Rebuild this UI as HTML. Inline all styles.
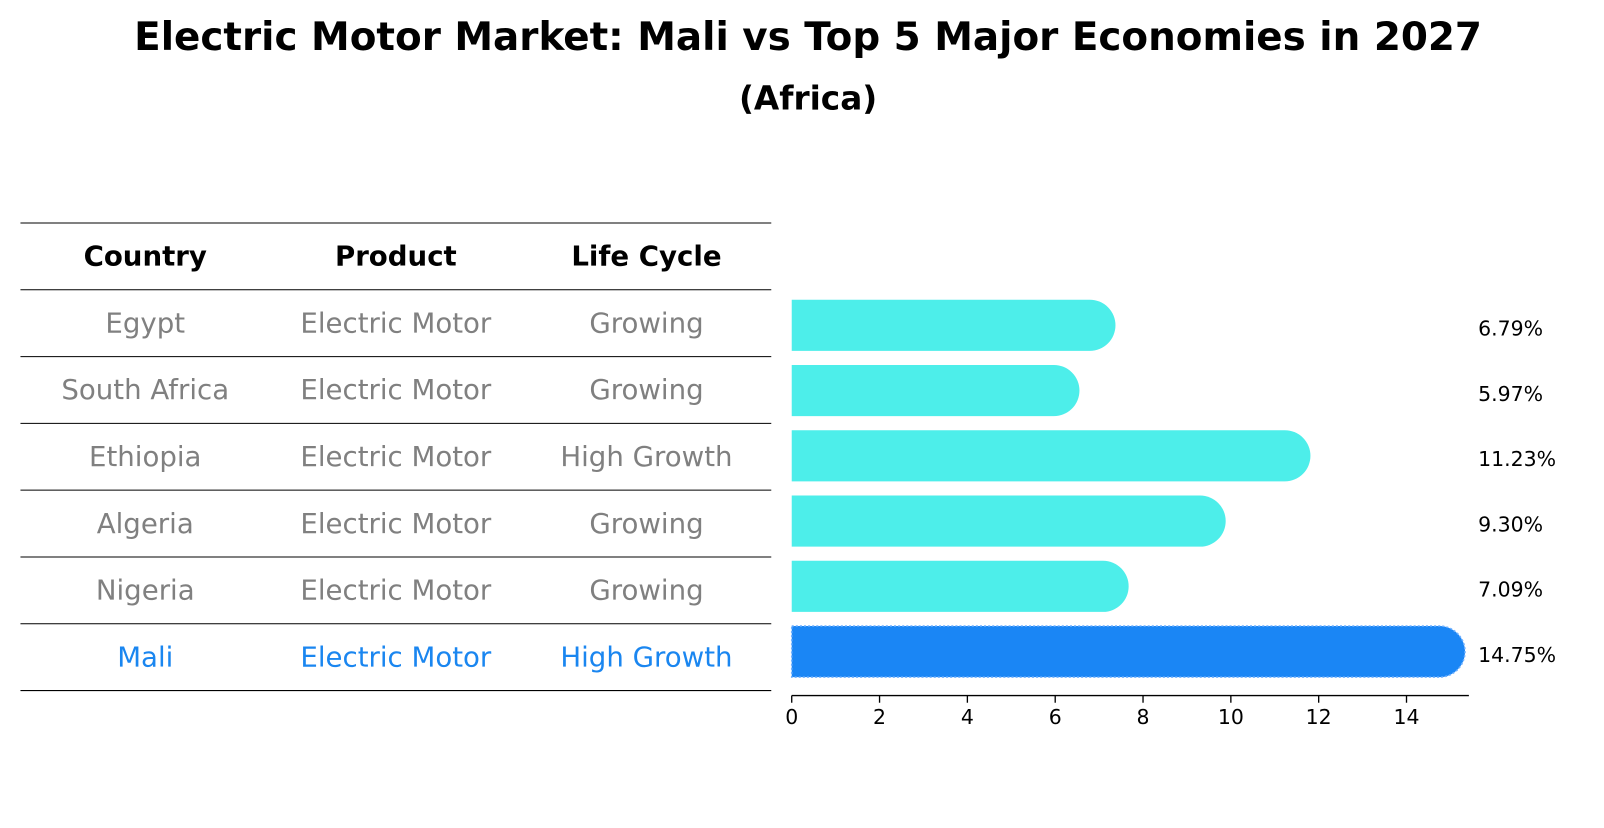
<!DOCTYPE html>
<html><head><meta charset="utf-8"><style>
body{margin:0;background:#fff;font-family:"Liberation Sans","DejaVu Sans",sans-serif}
</style></head><body>
<svg width="1604" height="823" xmlns="http://www.w3.org/2000/svg" font-family="DejaVu Sans, Liberation Sans, sans-serif">
<g transform="scale(1.0229)">
<text x="790" y="49" text-anchor="middle" font-size="38" font-weight="bold">Electric Motor Market: Mali vs Top 5 Major Economies in 2027</text>
<text x="790" y="107" text-anchor="middle" font-size="32" font-weight="bold">(Africa)</text>
<g id="table"></g>
<g id="bars"></g>
</g>
</svg>
<script>
const countries=["Egypt","South Africa","Ethiopia","Algeria","Nigeria","Mali"];
const products=["Electric Motor","Electric Motor","Electric Motor","Electric Motor","Electric Motor","Electric Motor"];
const lifeCycles=["Growing","Growing","High Growth","Growing","Growing","High Growth"];
const values=[6.79,5.97,11.23,9.30,7.09,14.75];
const ticks=[0,2,4,6,8,10,12,14];
const NS="http://www.w3.org/2000/svg";
function mk(tag,attrs,parent,text){const e=document.createElementNS(NS,tag);for(const k in attrs)e.setAttribute(k,attrs[k]);if(text!==undefined)e.textContent=text;parent.appendChild(e);return e;}
const tbl=document.getElementById('table'),bars=document.getElementById('bars');
const colX=[142,387,632];
const rowTop=218,rowH=65.3;
for(let i=0;i<=countries.length+1;i++){
  const l=mk('line',{x1:20,x2:754,y1:rowTop+i*rowH,y2:rowTop+i*rowH,stroke:'#000','stroke-width':1},tbl);
  
  
}
["Country","Product","Life Cycle"].forEach((h,j)=>{
  const t=mk('text',{x:colX[j],y:rowTop+rowH/2+9,'text-anchor':'middle','font-size':27,'font-weight':'bold'},tbl,h);
  
  
});
const x0=774,ppu=42.93;
const xs=v=>x0+v*ppu;
const barH=50;
countries.forEach((c,i)=>{
  const cy=rowTop+rowH*(i+1.5);
  const col=i===countries.length-1?'#1a86f0':'#808080';
  [c,products[i],lifeCycles[i]].forEach((s,j)=>{
    const t=mk('text',{x:colX[j],y:cy+9,'text-anchor':'middle','font-size':27,fill:col},tbl,s);
    
    
  });
  const bcy=318+i*63.8;
  const isM=i===countries.length-1;
  const w=xs(values[i])-x0;
  const p=mk('path',{d:`M${x0},${bcy-barH/2} H${x0+w} A${barH/2},${barH/2} 0 0 1 ${x0+w},${bcy+barH/2} H${x0} Z`,fill:isM?'#1a86f5':'#4deeea',stroke:isM?'#6fb0ff':'none','stroke-dasharray':isM?'2,2':'none','stroke-width':isM?1.5:0},bars);
  
  
  const t=mk('text',{x:1445,y:bcy+10,'font-size':20},bars,values[i].toFixed(2)+'%');
  
  
});
const ax=mk('line',{x1:x0,x2:1436,y1:680,y2:680,stroke:'#000','stroke-width':1.3},bars);


ticks.forEach(v=>{
  const l=mk('line',{x1:xs(v),x2:xs(v),y1:680,y2:687,stroke:'#000','stroke-width':1.3},bars);
  
  
  const t=mk('text',{x:xs(v),y:708,'text-anchor':'middle','font-size':20},bars,String(v));
  
  
});
</script>
</body></html>
